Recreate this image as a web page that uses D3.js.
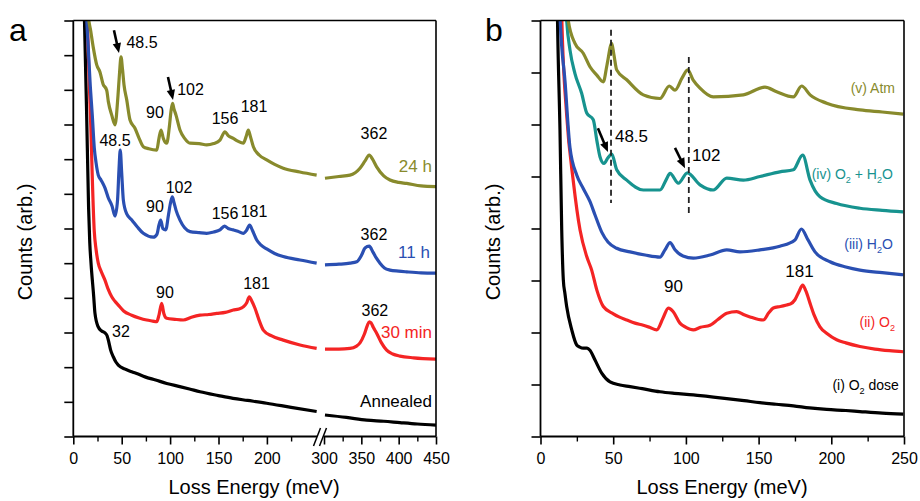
<!DOCTYPE html>
<html>
<head>
<meta charset="utf-8">
<script src="https://cdn.jsdelivr.net/npm/d3@7"></script>
<style>
  body { margin: 0; background: #fff; }
  text { font-family: "Liberation Sans", Arial, sans-serif; }
</style>
</head>
<body>
<div id="main"></div>
<script>
// ---- panel a spectra: [loss energy meV, counts arb.] ----
const annealed = [[9,13.5],[11.3,12.3],[14.5,8.32],[15.8,6.6],[17,5.6],[18.3,5.0],[21.1,4.03],[22.4,3.55],[25.6,3.17],[29,3.05],[32.7,2.99],[35,2.9],[36.2,2.78],[38.5,2.5],[41.3,2.30],[44,2.15],[46.5,2.06],[53,1.95],[60.3,1.87],[67,1.8],[74.1,1.72],[85,1.63],[96.5,1.53],[110,1.44],[120,1.37],[130.9,1.29],[150,1.18],[165,1.10],[180,1.04],[199.8,0.96],[225,0.84],[251.4,0.72],
  [301.3,0.62],[330,0.55],[357.2,0.47],[380,0.44],[401.7,0.40],[425,0.36],[450,0.33]];
const min30 = [[13.5,13.5],[14.5,12.15],[18,9],[21.7,5.9],[23.5,5.4],[25.8,5.0],[29,4.75],[32.7,4.51],[36,4.25],[39.7,4.03],[43,3.9],[46.5,3.79],[52,3.62],[60.3,3.50],[68,3.42],[75.8,3.36],[82,3.33],[86.2,3.31],[88.5,3.5],[91.3,3.84],[93.5,3.55],[96.5,3.41],[105,3.38],[113.6,3.36],[122,3.44],[130.9,3.50],[140,3.52],[148.1,3.55],[157,3.58],[165.3,3.65],[171,3.68],[175.6,3.74],[179,3.85],[181.8,4.03],[184.5,3.9],[187.7,3.70],[192,3.35],[196.3,3.07],[205,2.9],[216.9,2.78],[234.2,2.64],[251.4,2.54],
  [301.3,2.52],[320,2.52],[334.8,2.54],[343,2.6],[348.2,2.70],[354,2.95],[358,3.2],[360.6,3.31],[363,3.28],[366,3.15],[370.5,2.98],[377,2.7],[383.9,2.49],[392,2.38],[401.7,2.32],[420,2.27],[450,2.23]];
const h11 = [[12.8,13.5],[13.8,12.16],[15.5,11.2],[17.3,10.23],[19.6,9.27],[21.7,8.32],[23.5,7.9],[25.8,7.54],[28.6,7.40],[32.7,7.17],[36.2,6.88],[40.0,6.65],[43.1,6.36],[45.7,6.82],[47.2,7.7],[48.5,8.26],[50,7.6],[51.7,6.82],[55.2,6.42],[60.6,6.24],[66,6.05],[72.3,5.86],[82.6,5.75],[86.5,5.84],[88.5,6.1],[90.3,6.24],[92.5,6.0],[95.5,5.96],[98.3,6.39],[100.5,6.75],[102.3,6.91],[104,6.75],[106.1,6.53],[110.2,6.24],[115,6.02],[120.6,5.91],[130,5.88],[137.8,5.86],[145,5.9],[151.5,5.96],[156.2,6.07],[160,6.0],[165.3,5.96],[170,5.92],[175.6,5.86],[179,5.95],[182.1,6.10],[185,5.95],[189.5,5.67],[194,5.52],[199.8,5.41],[208,5.28],[216.9,5.19],[234.2,5.09],[251.4,5.00],
  [301.3,4.95],[320,4.97],[334.8,5.00],[343.8,5.04],[350.5,5.24],[354.9,5.44],[360.6,5.49],[365.6,5.32],[370,5.15],[375,5.00],[381,4.86],[388.4,4.80],[400,4.77],[410.7,4.75],[430,4.72],[450,4.71]];
const h24 = [[14.3,13.5],[15.5,12.16],[18,11.7],[20.7,11.21],[24.2,10.72],[27.6,10.51],[30.7,10.17],[34.5,9.99],[36.2,9.66],[39.7,9.27],[43.1,8.99],[46.2,9.85],[47.8,10.5],[49.3,10.95],[50.8,10.6],[52.4,10.14],[55.2,9.71],[58.6,9.13],[63.7,8.89],[68,8.6],[72.3,8.36],[78,8.3],[86.2,8.26],[88.5,8.6],[90.6,8.84],[93,8.6],[96.5,8.46],[99.4,8.98],[101,9.4],[102.5,9.61],[104,9.45],[106.1,9.27],[110.2,8.84],[115,8.6],[120.6,8.46],[130,8.45],[137.8,8.41],[145,8.45],[151.5,8.55],[156.7,8.79],[160,8.68],[165.3,8.60],[170,8.52],[175.6,8.46],[178.5,8.65],[180.8,8.84],[183,8.65],[186.0,8.36],[192,8.12],[199.8,7.98],[208,7.85],[216.9,7.74],[234,7.63],[251.4,7.54],
  [301.3,7.45],[320,7.5],[334.8,7.54],[348.2,7.74],[355,7.95],[360.6,8.12],[365,8.0],[370.5,7.78],[380,7.52],[388.4,7.40],[400,7.33],[410.7,7.30],[430,7.23],[450,7.21]];

// ---- panel b spectra ----
const o2dose = [[11.2,9],[11.7,8.0],[13.4,5.89],[14.6,3.97],[15.7,3.01],[16.8,2.75],[18.0,2.50],[21.5,2.05],[24.9,1.76],[27,1.72],[29.4,1.70],[32,1.70],[34.0,1.66],[37.5,1.47],[42.1,1.22],[47.8,1.05],[54.7,0.99],[61.6,0.96],[70,0.92],[82.2,0.86],[92,0.83],[105.1,0.80],[115,0.77],[128.1,0.73],[140,0.69],[150.9,0.65],[162,0.62],[173.9,0.59],[185,0.55],[196.8,0.52],[210,0.5],[219.7,0.48],[235,0.45],[249.5,0.43]];
const o2 = [[14.0,9],[14.6,8.10],[18.0,6.18],[22.6,4.90],[27.2,3.97],[31.8,3.46],[35.2,3.20],[38.7,2.82],[43.2,2.50],[50.1,2.36],[54,2.3],[59.3,2.24],[65,2.18],[70.7,2.14],[75,2.1],[79.9,2.05],[84.3,2.28],[87.9,2.47],[91.3,2.40],[95.9,2.18],[100,2.1],[105.1,2.05],[110,2.1],[116.6,2.14],[122,2.25],[128.1,2.37],[134.9,2.40],[140,2.34],[144.1,2.30],[150,2.25],[153.2,2.24],[157,2.38],[160.1,2.47],[165,2.5],[169.3,2.53],[172,2.55],[175.0,2.63],[178,2.8],[180.3,2.91],[182.5,2.8],[185.4,2.56],[188,2.35],[192.2,2.11],[197,1.98],[203.7,1.86],[210,1.8],[219.7,1.73],[230,1.68],[240,1.65],[249.5,1.63]];
const h2o = [[12.8,9],[13.4,8.10],[16.9,6.82],[20.3,5.55],[24.9,5.03],[29.4,4.77],[34.0,4.52],[37.5,4.26],[42.1,3.93],[46.4,3.74],[52.4,3.62],[61.6,3.55],[71.9,3.49],[82.2,3.45],[85.6,3.59],[89.1,3.73],[92.5,3.59],[98.0,3.47],[105.1,3.43],[116.6,3.49],[128.1,3.59],[137.2,3.55],[150.9,3.59],[164.6,3.66],[175.0,3.78],[179.4,3.99],[184,3.78],[188.8,3.55],[199.1,3.36],[210,3.26],[219.7,3.20],[235,3.15],[249.5,3.11]];
const o2h2o = [[16.3,9],[18.0,8.0],[20.3,7.43],[23.7,6.98],[28.3,6.60],[31.8,6.22],[36.3,6.09],[38.7,5.70],[40.9,5.38],[43.7,5.25],[46.4,5.36],[49.0,5.43],[52.4,5.13],[59.3,4.93],[70.7,4.74],[82.2,4.74],[86.3,4.93],[89.1,5.06],[94.8,4.87],[101.0,5.07],[109.7,4.84],[118.8,4.74],[128.1,4.97],[139.5,4.93],[150.9,5.00],[164.6,5.09],[173.9,5.13],[180.3,5.41],[185.4,4.93],[192.2,4.61],[203.7,4.48],[219.7,4.39],[235,4.35],[249.5,4.32]];
const atm = [[17.5,9],[19.1,8.0],[23.7,7.56],[29.4,7.37],[34.0,7.11],[38.7,6.95],[43.2,6.82],[45.7,7.14],[49.0,7.56],[50.5,7.34],[52.4,7.05],[59.3,6.86],[70.7,6.57],[82.2,6.50],[88.6,6.74],[92.5,6.66],[97.3,6.89],[101.2,7.05],[104.9,6.86],[109.7,6.70],[118.8,6.53],[139.5,6.57],[154.4,6.72],[162.4,6.63],[173.9,6.53],[179.6,6.74],[185.4,6.57],[196.8,6.41],[219.7,6.28],[235,6.24],[249.5,6.20]];

// ---- ticks ----
const aTicksLeft = [0,50,100,150,200];
const aMinorLeft = [25,75,125,175,225];
const aTicksRight = [300,350,400,450];
const aMinorRight = [325,375,425];
const bTicks = [0,50,100,150,200,250];
const bMinor = [25,75,125,175,225];

// ---- annotations: [text, meV, counts] ----
const aLabels = [
  ["48.5",71.0,11.21],["102",121.1,9.85],["90",84.4,9.19],["156",156.7,9.01],["181",186.7,9.36],["362",366.9,8.58],
  ["48.5",43.1,8.38],["90",84.4,6.48],["102",109.2,7.02],["156",156.7,6.27],["181",186.7,6.33],["362",366.9,5.67],
  ["90",94.7,3.99],["181",189.3,4.25],["362",368.2,3.48],
  ["32",49.3,2.87]
];
const aNames = [["24 h",444.6,7.63,"h24"],["11 h",441.9,5.15,"h11"],["30 min",444.6,2.84,"min30"],["Annealed",444.6,0.85,"annealed"]];
const aArrows = [[42.0,11.72,47.2,11.06],[97.8,10.37,103.0,9.71]];

const bLabels = [["48.5",51.2,5.66],["102",104.2,5.30],["90",91.5,2.77],["181",178.1,3.07]];
const bNames = [["(v) Atm",243.8,6.61,"atm"],["(iv) O_2 + H_2O",242.4,4.95,"o2h2o"],["(iii) H_2O",242.4,3.61,"h2o"],["(ii) O_2",243.8,2.11,"o2"],["(i) O_2 dose",246.5,0.89,"o2dose"]];
const bArrows = [[39.5,5.93,46.4,5.47],[92.5,5.55,99.4,5.16]];
const bDashed = [[48.5,7.82,4.49],[102,7.30,4.30]];

const colors = {
  annealed: "#000000", min30: "#f42424", h11: "#2a4fb2", h24: "#888a2c",
  o2dose: "#000000", o2: "#f42424", h2o: "#2a4fb2", o2h2o: "#17938f", atm: "#888a2c"
};

const svg = d3.select("#main").append("svg")
  .attr("width", 920).attr("height", 501);

const A = {left: 73.3, right: 436, top: 20.5, bottom: 436.5, brk1: 317, brk2: 324};
const B = {left: 540.5, right: 904, top: 20.5, bottom: 436.5};

const xa1 = d3.scaleLinear().domain([0,250]).range([A.left, 315.3]);
const xa2 = d3.scaleLinear().domain([300,450]).range([324, 436]);
const ya = d3.scaleLinear().domain([0,12]).range([A.bottom, A.top]);
const xb = d3.scaleLinear().domain([0,250]).range([B.left, B.right]);
const yb = d3.scaleLinear().domain([0,8]).range([B.bottom, B.top]);
const xa = function(e) { return e < 275 ? xa1(e) : xa2(e); };

const defs = svg.append("defs");
defs.append("clipPath").attr("id","clipA").append("rect")
  .attr("x",A.left).attr("y",A.top).attr("width",A.right-A.left).attr("height",A.bottom-A.top);
defs.append("clipPath").attr("id","clipB").append("rect")
  .attr("x",B.left).attr("y",B.top).attr("width",B.right-B.left).attr("height",B.bottom-B.top);

function addText(g, str, x, y, size, color, anchor) {
  const t = g.append("text").attr("x", x).attr("y", y)
    .attr("font-size", size).attr("fill", color).attr("text-anchor", anchor || "middle");
  const parts = str.split(/(_\d)/);
  let sub = false;
  parts.forEach(function(p) {
    if (p === "") return;
    if (p[0] === "_") {
      t.append("tspan").text(p.slice(1)).attr("font-size", size * 0.65).attr("dy", size * 0.28);
      sub = true;
    } else {
      const s = t.append("tspan").text(p);
      if (sub) { s.attr("dy", -size * 0.28); sub = false; }
    }
  });
  return t;
}

function arrow(g, x1, y1, x2, y2) {
  const dx = x2 - x1, dy = y2 - y1, len = Math.sqrt(dx*dx + dy*dy);
  const ux = dx / len, uy = dy / len, hl = 10, hw = 4.2;
  g.append("line").attr("x1", x1).attr("y1", y1)
    .attr("x2", x2 - ux*hl*0.8).attr("y2", y2 - uy*hl*0.8)
    .attr("stroke", "#000").attr("stroke-width", 2.6);
  const bx = x2 - ux*hl, by = y2 - uy*hl;
  g.append("path")
    .attr("d", "M" + x2 + "," + y2 + "L" + (bx - uy*hw) + "," + (by + ux*hw) + "L" + (bx + uy*hw) + "," + (by - ux*hw) + "Z")
    .attr("fill", "#000");
}

// ================= panel a =================
const ga = svg.append("g");
const curvesA = ga.append("g").attr("clip-path", "url(#clipA)");
const lineA = d3.line().curve(d3.curveMonotoneX).x(d => xa(d[0])).y(d => ya(d[1]));
[["annealed",annealed],["min30",min30],["h11",h11],["h24",h24]].forEach(function(s) {
  const left = s[1].filter(d => d[0] < 275), right = s[1].filter(d => d[0] >= 275);
  [left, right].forEach(function(seg) {
    curvesA.append("path").datum(seg).attr("d", lineA)
      .attr("fill", "none").attr("stroke", colors[s[0]])
      .attr("stroke-width", 3.2).attr("stroke-linejoin", "round");
  });
});

// frame
ga.append("line").attr("x1",A.left).attr("x2",A.left).attr("y1",A.top).attr("y2",A.bottom).attr("stroke","#000").attr("stroke-width",1.8);
ga.append("line").attr("x1",A.right).attr("x2",A.right).attr("y1",A.top).attr("y2",A.bottom).attr("stroke","#000").attr("stroke-width",1.6);
ga.append("line").attr("x1",A.left).attr("x2",A.right).attr("y1",A.top).attr("y2",A.top).attr("stroke","#000").attr("stroke-width",1.6);
ga.append("line").attr("x1",A.left).attr("x2",A.brk1).attr("y1",A.bottom).attr("y2",A.bottom).attr("stroke","#000").attr("stroke-width",1.8);
ga.append("line").attr("x1",A.brk2).attr("x2",A.right).attr("y1",A.bottom).attr("y2",A.bottom).attr("stroke","#000").attr("stroke-width",1.8);
// break marks
[313.5, 319.5].forEach(function(x0) {
  ga.append("line").attr("x1", x0).attr("y1", 446).attr("x2", x0 + 7).attr("y2", 428)
    .attr("stroke", "#000").attr("stroke-width", 1.5);
});

function xAxis(g, scale, major, minor, y) {
  g.append("g").attr("transform", "translate(0," + y + ")")
    .call(d3.axisBottom(scale).tickValues(major).tickSize(8).tickSizeOuter(0).tickPadding(8))
    .call(ax => ax.select(".domain").remove())
    .call(ax => ax.selectAll("line").attr("stroke-width", 1.6))
    .call(ax => ax.selectAll("text").attr("font-size", 16).attr("fill", "#000")
      .attr("font-family", "Liberation Sans, Arial, sans-serif"));
  g.append("g").attr("transform", "translate(0," + y + ")")
    .call(d3.axisBottom(scale).tickValues(minor).tickSize(5).tickSizeOuter(0).tickFormat(""))
    .call(ax => ax.select(".domain").remove())
    .call(ax => ax.selectAll("line").attr("stroke-width", 1.4));
}
function yAxis(g, scale, n, x) {
  g.append("g").attr("transform", "translate(" + x + ",0)")
    .call(d3.axisLeft(scale).tickValues(d3.range(0, n + 1)).tickSize(9).tickSizeOuter(0).tickFormat(""))
    .call(ax => ax.select(".domain").remove())
    .call(ax => ax.selectAll("line").attr("stroke-width", 1.6));
}
xAxis(ga, xa1, aTicksLeft, aMinorLeft, A.bottom);
xAxis(ga, xa2, aTicksRight, aMinorRight, A.bottom);
yAxis(ga, ya, 12, A.left);

aLabels.forEach(l => addText(ga, l[0], xa(l[1]), ya(l[2]), 16, "#000"));
aNames.forEach(l => addText(ga, l[0], xa(l[1]), ya(l[2]), 17, colors[l[3]], "end"));
aArrows.forEach(a => arrow(ga, xa(a[0]), ya(a[1]), xa(a[2]), ya(a[3])));

addText(ga, "a", 9, 41, 32, "#000", "start");
addText(ga, "Loss Energy (meV)", 254, 494, 20, "#000");
ga.append("text").attr("transform", "translate(32,242) rotate(-90)")
  .attr("text-anchor", "middle").attr("font-size", 20).text("Counts (arb.)");

// ================= panel b =================
const gb = svg.append("g");
const curvesB = gb.append("g").attr("clip-path", "url(#clipB)");
const lineB = d3.line().curve(d3.curveMonotoneX).x(d => xb(d[0])).y(d => yb(d[1]));
[["o2dose",o2dose],["o2",o2],["h2o",h2o],["o2h2o",o2h2o],["atm",atm]].forEach(function(s) {
  curvesB.append("path").datum(s[1]).attr("d", lineB)
    .attr("fill", "none").attr("stroke", colors[s[0]])
    .attr("stroke-width", 3.2).attr("stroke-linejoin", "round");
});

bDashed.forEach(function(d) {
  gb.append("line").attr("x1", xb(d[0])).attr("x2", xb(d[0]))
    .attr("y1", yb(d[1])).attr("y2", yb(d[2]))
    .attr("stroke", "#222").attr("stroke-width", 1.8).attr("stroke-dasharray", "6,4");
});

gb.append("line").attr("x1",B.left).attr("x2",B.left).attr("y1",B.top).attr("y2",B.bottom).attr("stroke","#000").attr("stroke-width",1.8);
gb.append("line").attr("x1",B.right).attr("x2",B.right).attr("y1",B.top).attr("y2",B.bottom).attr("stroke","#000").attr("stroke-width",1.6);
gb.append("line").attr("x1",B.left).attr("x2",B.right).attr("y1",B.top).attr("y2",B.top).attr("stroke","#000").attr("stroke-width",1.6);
gb.append("line").attr("x1",B.left).attr("x2",B.right).attr("y1",B.bottom).attr("y2",B.bottom).attr("stroke","#000").attr("stroke-width",1.8);

xAxis(gb, xb, bTicks, bMinor, B.bottom);
yAxis(gb, yb, 8, B.left);

bLabels.forEach(function(l, i) {
  addText(gb, l[0], xb(l[1]), yb(l[2]), 17, "#000", i < 2 ? "start" : "middle");
});
bNames.forEach(l => addText(gb, l[0], xb(l[1]), yb(l[2]), 14, colors[l[3]], "end"));
bArrows.forEach(a => arrow(gb, xb(a[0]), yb(a[1]), xb(a[2]), yb(a[3])));

addText(gb, "b", 485, 41, 32, "#000", "start");
addText(gb, "Loss Energy (meV)", 722, 494, 20, "#000");
gb.append("text").attr("transform", "translate(500,242) rotate(-90)")
  .attr("text-anchor", "middle").attr("font-size", 20).text("Counts (arb.)");
</script>
</body>
</html>
